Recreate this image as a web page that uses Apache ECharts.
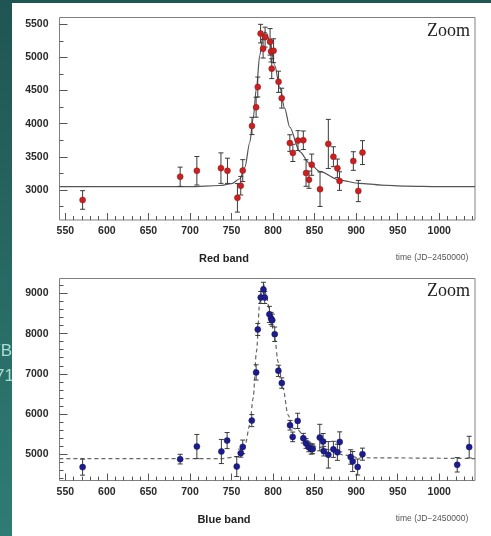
<!DOCTYPE html>
<html>
<head>
<meta charset="utf-8">
<script src="https://cdn.jsdelivr.net/npm/echarts@6/dist/echarts.min.js"></script>
<style>
html,body{margin:0;padding:0;background:#fff;}
#c{width:491px;height:536px;}
</style>
</head>
<body>
<div id="c"></div>
<script>
// ---- Red band data ----
const redT = [570.8, 688.2, 708.3, 737.3, 745.1, 757.1, 761.1, 763.5, 774.6, 779.6, 781.6, 785.0, 788.0, 790.4, 796.4, 797.6, 798.4, 800.6, 806.6, 810.4, 820.2, 823.8, 830.0, 836.4, 839.7, 843.2, 846.5, 856.5, 866.5, 872.6, 877.4, 880.0, 896.6, 902.6, 907.6];
const redV = [2850, 3200, 3290, 3330, 3290, 2882, 3065, 3293, 3966, 4248, 4553, 5358, 5130, 5305, 5234, 5090, 4830, 5100, 4632, 4385, 3708, 3560, 3745, 3750, 3256, 3156, 3382, 3012, 3695, 3502, 3327, 3135, 3437, 2985, 3564];
const redErr = [140, 145, 215, 230, 190, 215, 140, 165, 130, 150, 150, 140, 140, 150, 200, 160, 150, 180, 160, 150, 125, 130, 150, 140, 200, 130, 160, 260, 370, 150, 140, 140, 140, 160, 180];
const redFitT = [543, 700, 736, 750, 760, 766, 772, 776, 780, 784, 788, 790, 792, 796, 802, 808, 814, 820, 832, 844, 856, 880, 904, 930, 960, 1000, 1043];
const redFitV = [3050, 3052, 3068, 3095, 3170, 3340, 3720, 4080, 4540, 5030, 5330, 5380, 5370, 5230, 4880, 4550, 4230, 3950, 3580, 3400, 3280, 3150, 3100, 3075, 3060, 3052, 3050];

// ---- Blue band data ----
const blueT = [570.8, 688.2, 708.3, 737.8, 744.7, 756.3, 761.1, 763.5, 774.4, 779.6, 781.6, 785.2, 788.4, 790.0, 795.6, 797.6, 799.0, 802.0, 806.4, 810.5, 820.4, 823.6, 829.6, 836.4, 839.7, 843.0, 845.8, 847.7, 856.2, 860.2, 861.0, 866.5, 872.6, 877.4, 880.2, 893.4, 895.8, 901.8, 907.6, 1021.6, 1036.0];
const blueV = [4677, 4876, 5190, 5066, 5338, 4692, 5025, 5181, 5835, 7035, 8105, 8900, 9099, 8900, 8480, 8380, 8336, 7985, 7075, 6770, 5720, 5430, 5828, 5397, 5265, 5170, 5130, 5130, 5413, 5314, 5075, 4983, 5120, 5046, 5305, 4930, 4817, 4680, 5000, 4735, 5175];
const blueErr = [200, 120, 300, 300, 200, 250, 100, 170, 150, 190, 150, 150, 180, 150, 200, 150, 150, 180, 140, 130, 120, 120, 190, 120, 120, 110, 130, 120, 330, 200, 120, 330, 200, 200, 250, 180, 250, 200, 150, 180, 270];
const blueFitT = [543, 736, 760, 766, 772, 776, 780, 784, 788, 792, 796, 802, 806, 812, 818, 824, 830, 840, 852, 868, 884, 904, 1043];
const blueFitV = [4890, 4890, 4940, 5190, 5730, 6390, 7550, 8790, 9250, 8960, 8540, 7880, 7300, 6640, 5980, 5650, 5600, 5355, 5190, 5107, 4983, 4910, 4890];

// ---- Tick labels ----
const xMajor = [550, 600, 650, 700, 750, 800, 850, 900, 950, 1000];
const redYMajor = [3000, 3500, 4000, 4500, 5000, 5500];
const blueYMajor = [5000, 6000, 7000, 8000, 9000];

const xMinor = [];
for (let v = 550; v <= 1040; v += 10) if (v % 50 !== 0) xMinor.push(v);
const redYMinor = [2750, 3250, 3750, 4250, 4750, 5250];
const blueYMinor = [];
for (let v = 4400; v <= 9200; v += 200) if (v % 1000 !== 0) blueYMinor.push(v);

const X_MIN = 543, X_MAX = 1043;
const labelFont = {fontFamily: 'Liberation Sans, Arial, sans-serif', fontWeight: 'bold', fontSize: 10.5, color: '#2a2a2a'};
const plain = v => String(Math.round(v));

function xAxes(gi) {
  return [
    {gridIndex: gi, type: 'value', position: 'bottom', min: X_MIN, max: X_MAX,
     axisLine: {show: false}, splitLine: {show: false},
     axisTick: {inside: true, length: 7, customValues: xMajor, lineStyle: {color: '#555'}},
     axisLabel: Object.assign({customValues: xMajor, margin: 6, formatter: plain}, labelFont)},
    {gridIndex: gi, type: 'value', position: 'bottom', min: X_MIN, max: X_MAX,
     axisLine: {show: false}, splitLine: {show: false},
     axisTick: {inside: true, length: 4, customValues: xMinor, lineStyle: {color: '#555'}},
     axisLabel: {show: false}}
  ];
}
function yAxes(gi, mn, mx, major, minor) {
  return [
    {gridIndex: gi, type: 'value', position: 'left', min: mn, max: mx,
     axisLine: {show: false}, splitLine: {show: false},
     axisTick: {inside: true, length: 8, customValues: major, lineStyle: {color: '#555'}},
     axisLabel: Object.assign({customValues: major, margin: 11, formatter: plain}, labelFont)},
    {gridIndex: gi, type: 'value', position: 'left', min: mn, max: mx,
     axisLine: {show: false}, splitLine: {show: false},
     axisTick: {inside: true, length: 4, customValues: minor, lineStyle: {color: '#555'}},
     axisLabel: {show: false}}
  ];
}

function errRender(params, api) {
  const x = api.value(0), y = api.value(1), e = api.value(2);
  const top = api.coord([x, y + e]);
  const bot = api.coord([x, y - e]);
  const hw = 2.5;
  const st = {stroke: '#3a3a3a', lineWidth: 1};
  return {type: 'group', children: [
    {type: 'line', shape: {x1: top[0], y1: top[1], x2: bot[0], y2: bot[1]}, style: st},
    {type: 'line', shape: {x1: top[0] - hw, y1: top[1], x2: top[0] + hw, y2: top[1]}, style: st},
    {type: 'line', shape: {x1: bot[0] - hw, y1: bot[1], x2: bot[0] + hw, y2: bot[1]}, style: st}
  ]};
}

const redErrData = redT.map((t, i) => [t, redV[i], redErr[i]]);
const blueErrData = blueT.map((t, i) => [t, blueV[i], blueErr[i]]);
const redPts = redT.map((t, i) => [t, redV[i]]);
const bluePts = blueT.map((t, i) => [t, blueV[i]]);
const redFit = redFitT.map((t, i) => [t, redFitV[i]]);
const blueFit = blueFitT.map((t, i) => [t, blueFitV[i]]);

const chart = echarts.init(document.getElementById('c'), null, {renderer: 'canvas'});
chart.setOption({
  animation: false,
  backgroundColor: '#ffffff',
  grid: [
    {left: 59.5, top: 17.5, width: 415.5, height: 202.5, show: true, borderColor: '#808080', borderWidth: 1, backgroundColor: 'transparent'},
    {left: 59.5, top: 278.5, width: 415.5, height: 202, show: true, borderColor: '#808080', borderWidth: 1, backgroundColor: 'transparent'}
  ],
  xAxis: xAxes(0).concat(xAxes(1)),
  yAxis: yAxes(0, 2548, 5601, redYMajor, redYMinor).concat(yAxes(1, 4344, 9373, blueYMajor, blueYMinor)),
  graphic: [
    {type: 'rect', z: -10, shape: {x: 0, y: 0, width: 491, height: 536},
     style: {fill: new echarts.graphic.LinearGradient(0, 0, 0, 1, [{offset: 0, color: '#1f5552'}, {offset: 1, color: '#2f7c74'}])}},
    {type: 'text', z: -9, style: {text: 'TB', x: 12, y: 351, textAlign: 'right', textVerticalAlign: 'middle', fill: '#a9ddd5', font: '17px "Liberation Sans", Arial, sans-serif'}},
    {type: 'text', z: -9, style: {text: '71', x: 14, y: 376, textAlign: 'right', textVerticalAlign: 'middle', fill: '#a9ddd5', font: '17px "Liberation Sans", Arial, sans-serif'}},
    {type: 'rect', z: -8, shape: {x: 12, y: 3, width: 479, height: 533}, style: {fill: '#ffffff'}},
    {type: 'text', z: 5, style: {text: 'Zoom', x: 470, y: 31, textAlign: 'right', textVerticalAlign: 'middle', fill: '#222', font: '18px "Liberation Serif", "Times New Roman", serif'}},
    {type: 'text', z: 5, style: {text: 'Zoom', x: 470, y: 291, textAlign: 'right', textVerticalAlign: 'middle', fill: '#222', font: '18px "Liberation Serif", "Times New Roman", serif'}},
    {type: 'text', z: 5, style: {text: 'Red band', x: 224, y: 259, textAlign: 'center', textVerticalAlign: 'middle', fill: '#222', font: 'bold 11px "Liberation Sans", Arial, sans-serif'}},
    {type: 'text', z: 5, style: {text: 'Blue band', x: 224, y: 520, textAlign: 'center', textVerticalAlign: 'middle', fill: '#222', font: 'bold 11px "Liberation Sans", Arial, sans-serif'}},
    {type: 'text', z: 5, style: {text: 'time (JD\u22122450000)', x: 432, y: 258, textAlign: 'center', textVerticalAlign: 'middle', fill: '#555', font: '8.5px "Liberation Sans", Arial, sans-serif'}},
    {type: 'text', z: 5, style: {text: 'time (JD\u22122450000)', x: 432, y: 519, textAlign: 'center', textVerticalAlign: 'middle', fill: '#555', font: '8.5px "Liberation Sans", Arial, sans-serif'}}
  ],
  series: [
    {type: 'line', xAxisIndex: 0, yAxisIndex: 0, data: redFit, showSymbol: false, smooth: 0.3, smoothMonotone: 'x',
     lineStyle: {color: '#555', width: 1.2}, z: 2},
    {type: 'custom', xAxisIndex: 0, yAxisIndex: 0, data: redErrData, renderItem: errRender, encode: {x: 0, y: 1}, z: 3},
    {type: 'scatter', xAxisIndex: 0, yAxisIndex: 0, data: redPts, symbolSize: 6,
     itemStyle: {color: '#cc2020', borderColor: '#8a1818', borderWidth: 0.5, opacity: 1}, z: 4},
    {type: 'line', xAxisIndex: 2, yAxisIndex: 2, data: blueFit, showSymbol: false, smooth: 0.3, smoothMonotone: 'x',
     lineStyle: {color: '#666', width: 1.2, type: [4, 3]}, z: 2},
    {type: 'custom', xAxisIndex: 2, yAxisIndex: 2, data: blueErrData, renderItem: errRender, encode: {x: 0, y: 1}, z: 3},
    {type: 'scatter', xAxisIndex: 2, yAxisIndex: 2, data: bluePts, symbolSize: 6,
     itemStyle: {color: '#1c1c90', borderColor: '#10105a', borderWidth: 0.5, opacity: 1}, z: 4}
  ]
});
</script>
</body>
</html>
